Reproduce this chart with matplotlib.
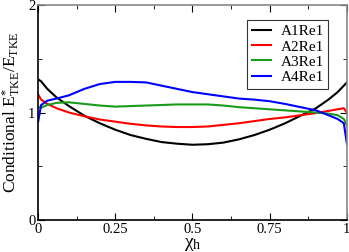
import matplotlib
matplotlib.use("Agg")
import matplotlib.pyplot as plt
from matplotlib.ticker import MultipleLocator

chi = [0, 0.01, 0.03, 0.06, 0.1, 0.15, 0.2, 0.25, 0.3, 0.35, 0.4, 0.45, 0.5,
       0.55, 0.6, 0.65, 0.7, 0.75, 0.8, 0.85, 0.9, 0.94, 0.97, 0.99, 1.0]
a1 = [1.31, 1.29, 1.22, 1.14, 1.06, 0.97, 0.90, 0.84, 0.79, 0.755, 0.725, 0.71, 0.70,
      0.705, 0.72, 0.75, 0.79, 0.84, 0.90, 0.97, 1.04, 1.12, 1.19, 1.25, 1.28]
a2 = [1.17, 1.12, 1.08, 1.04, 1.0, 0.965, 0.935, 0.915, 0.895, 0.88, 0.87, 0.865, 0.865,
      0.87, 0.885, 0.90, 0.92, 0.94, 0.955, 0.975, 0.995, 1.015, 1.03, 1.04, 1.0]
a3 = [1.05, 1.045, 1.07, 1.09, 1.095, 1.08, 1.065, 1.055, 1.06, 1.065, 1.07, 1.075, 1.075,
      1.075, 1.065, 1.05, 1.04, 1.03, 1.02, 1.01, 1.0, 0.99, 0.975, 0.94, 0.88]
a4 = [0.91, 1.07, 1.11, 1.13, 1.16, 1.22, 1.265, 1.285, 1.285, 1.28, 1.25, 1.22, 1.19,
      1.17, 1.15, 1.13, 1.12, 1.105, 1.08, 1.05, 1.02, 0.975, 0.94, 0.90, 0.71]
labels = ["A1Re1", "A2Re1", "A3Re1", "A4Re1"]
colors = ["black", "red", "#1a9a1a", "blue"]

plt.rcParams['font.family'] = ['Liberation Serif', 'DejaVu Serif']
plt.rcParams['mathtext.fontset'] = 'custom'
plt.rcParams['mathtext.rm'] = 'Liberation Serif'
plt.rcParams['mathtext.it'] = 'Liberation Serif:italic'
plt.rcParams['mathtext.default'] = 'rm'

fig = plt.figure(figsize=(3.49, 2.52), dpi=100)
ax = fig.add_axes([0.109, 0.127, 0.885, 0.853])
for y, lab, c in zip([a1, a2, a3, a4], labels, colors):
    ax.plot(chi, y, color=c, lw=1.5, label=lab)

ax.set_xlim(0, 1)
ax.set_ylim(0, 2)
ax.set_xticks([0, 0.25, 0.5, 0.75, 1])
ax.set_xticklabels(["0", "0.25", "0.5", "0.75", "1"])
ax.set_yticks([0, 1, 2])
ax.xaxis.set_minor_locator(MultipleLocator(0.125))
ax.yaxis.set_minor_locator(MultipleLocator(0.5))
ax.tick_params(which='both', direction='in', top=True, right=True, labelsize=10.5, pad=2)
ax.tick_params(which='major', length=5)
ax.tick_params(which='minor', length=3)
for s in ax.spines.values():
    s.set_linewidth(1.2)
ax.spines['top'].set_color('#888888')
ax.spines['right'].set_color('#888888')

ax.set_xlabel("χ$_{\\rm h}$", fontsize=14, labelpad=0)
ax.set_ylabel("Conditional E$^{*}_{\\rm TKE}$/E$_{\\rm TKE}$", fontsize=12.5)
ax.yaxis.set_label_coords(-0.05, 0.5)

leg = ax.legend(loc='upper right', bbox_to_anchor=(0.94, 0.93), fontsize=11,
                frameon=True, fancybox=False, edgecolor='black', labelspacing=0.1,
                handlelength=1.3, handletextpad=0.6, borderpad=0.3, borderaxespad=0)
leg.get_frame().set_linewidth(0.8)

fig.savefig("out.png", dpi=100)
